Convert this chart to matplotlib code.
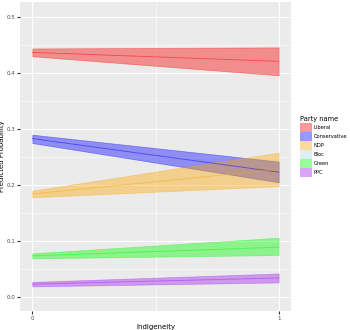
import matplotlib.pyplot as plt
from matplotlib.patches import Patch
import numpy as np

# predicted probabilities at indigeneity 0 and 1
x = [0, 1]
parties = ['Liberal', 'Conservative', 'NDP', 'Bloc', 'Green', 'PPC']
colors = ['#FF0000', '#0000FF', '#FFA500', '#ADD8E6', '#00FF00', '#A020F0']
fit = {'Liberal': [0.437, 0.421], 'Conservative': [0.283, 0.223],
       'NDP': [0.184, 0.228], 'Green': [0.0735, 0.089], 'PPC': [0.023, 0.034]}
low = {'Liberal': [0.430, 0.396], 'Conservative': [0.275, 0.205],
       'NDP': [0.178, 0.198], 'Green': [0.069, 0.075], 'PPC': [0.019, 0.026]}
high = {'Liberal': [0.444, 0.446], 'Conservative': [0.290, 0.242],
        'NDP': [0.190, 0.258], 'Green': [0.078, 0.106], 'PPC': [0.027, 0.042]}

fig = plt.figure(figsize=(3.5, 3.3), dpi=100)
ax = fig.add_axes([20 / 350, 19 / 330, 271 / 350, 309 / 330])
ax.set_facecolor('#EBEBEB')
for s in ax.spines.values():
    s.set_visible(False)

ax.set_yticks([0, 0.1, 0.2, 0.3, 0.4, 0.5])
ax.set_yticks(np.arange(0.05, 0.5, 0.1), minor=True)
ax.set_xticks([0, 1])
ax.set_xticks([0.5], minor=True)
ax.grid(which='major', color='white', lw=0.8)
ax.grid(which='minor', color='white', lw=0.4)
ax.set_axisbelow(True)
ax.tick_params(which='major', length=2, color='#333333', labelsize=4, labelcolor='#4D4D4D', pad=1.5)
ax.tick_params(which='minor', length=0)
ax.set_yticklabels(['0.0', '0.1', '0.2', '0.3', '0.4', '0.5'])

for p, c in zip(parties, colors):
    if p not in fit:
        continue
    ax.fill_between(x, low[p], high[p], color=c, alpha=0.4, lw=0.5, edgecolor=c)
    ax.plot(x, fit[p], color=c, lw=0.6, alpha=0.5)

ax.set_xlim(-0.05, 1.05)
ax.set_ylim(-0.025, 0.527)
ax.set_xlabel('Indigeneity', fontsize=5)
ax.set_ylabel('Predicted Probability', fontsize=5)
ax.xaxis.set_label_coords(0.5, -13 / 309)
ax.yaxis.set_label_coords(-15 / 271, 0.5)

handles = [Patch(facecolor=c, edgecolor=c, alpha=0.4, lw=0.5) for c in colors]
leg = fig.legend(handles, parties, title='Party name', loc='upper left',
                 bbox_to_anchor=(300 / 350, 1 - 116 / 330), frameon=False,
                 fontsize=3.7, title_fontsize=4.8, handlelength=2.1, handleheight=2.0,
                 labelspacing=0.22, handletextpad=0.5, borderaxespad=0, borderpad=0)
leg._legend_box.align = 'left'

fig.savefig('out.png', dpi=100)
